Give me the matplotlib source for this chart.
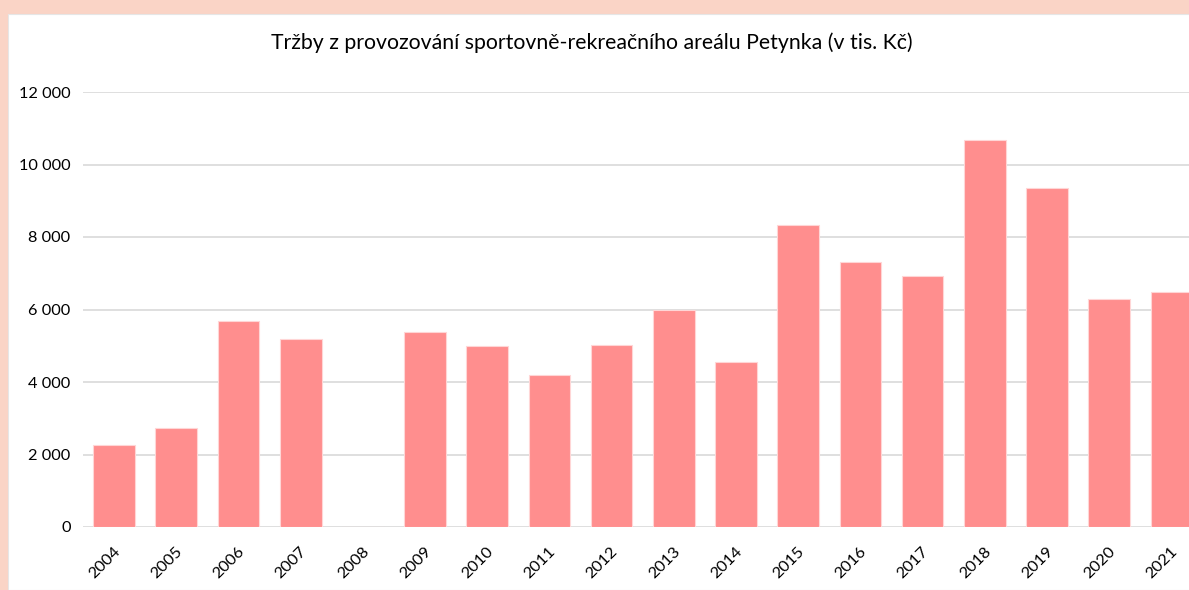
import matplotlib
matplotlib.use("Agg")
import matplotlib.pyplot as plt
from matplotlib.patches import Rectangle
from matplotlib.ticker import FuncFormatter
from matplotlib.transforms import ScaledTranslation

years = ["2004", "2005", "2006", "2007", "2008", "2009", "2010", "2011", "2012",
         "2013", "2014", "2015", "2016", "2017", "2018", "2019", "2020", "2021"]
revenue = [2270, 2730, 5680, 5180, 0, 5380, 4990, 4200, 5030,
           5990, 4540, 8320, 7300, 6920, 10670, 9350, 6280, 6470]
y_ticks = [0, 2000, 4000, 6000, 8000, 10000, 12000]
title = "Tržby z provozování sportovně-rekreačního areálu Petynka (v tis. Kč)"

plt.rcParams['font.family'] = ['Lato', 'DejaVu Sans']

W, H = 1189, 590
fig = plt.figure(figsize=(W / 100, H / 100), dpi=100)
fig.patch.set_facecolor('#FAD4C6')
fig.add_artist(Rectangle((8 / W, 0), 1, 1 - 14 / H, transform=fig.transFigure,
                         facecolor='white', edgecolor='#E6E6E6', linewidth=0.8, zorder=0))

left = 83 / W
right = 1202.5 / W
bottom = (H - 527) / H
top = (H - 92) / H
ax = fig.add_axes([left, bottom, right - left, top - bottom])
ax.set_facecolor('none')

x = list(range(len(years)))
ax.bar(x, revenue, width=0.67, color='#FF8E8E', edgecolor='#FFD6D6', linewidth=0.8, zorder=3)

ax.set_xlim(-0.5, len(years) - 0.5)
ax.set_ylim(0, 12000)
ax.set_yticks(y_ticks)
ax.yaxis.set_major_formatter(FuncFormatter(lambda v, p: f"{int(v):,}".replace(",", " ")))
ax.grid(axis='y', color='#D9D9D9', linewidth=1.2, zorder=0)
ax.set_xticks(x)
ax.set_xticklabels(years, rotation=45, ha='right', va='center', rotation_mode='anchor')
for s in ax.spines.values():
    s.set_visible(False)
ax.tick_params(axis='both', length=0, labelsize=11.8, colors='#000000')
ax.tick_params(axis='y', pad=9)
ax.tick_params(axis='x', pad=16)
shift = ScaledTranslation(4 / 100, 0, fig.dpi_scale_trans)
for lbl in ax.get_xticklabels():
    lbl.set_transform(lbl.get_transform() + shift)

fig.text(592 / W, 1 - 43 / H, title, ha='center', va='center', fontsize=15.3, color='#000000')

fig.savefig("out.png", dpi=100, facecolor=fig.get_facecolor())
